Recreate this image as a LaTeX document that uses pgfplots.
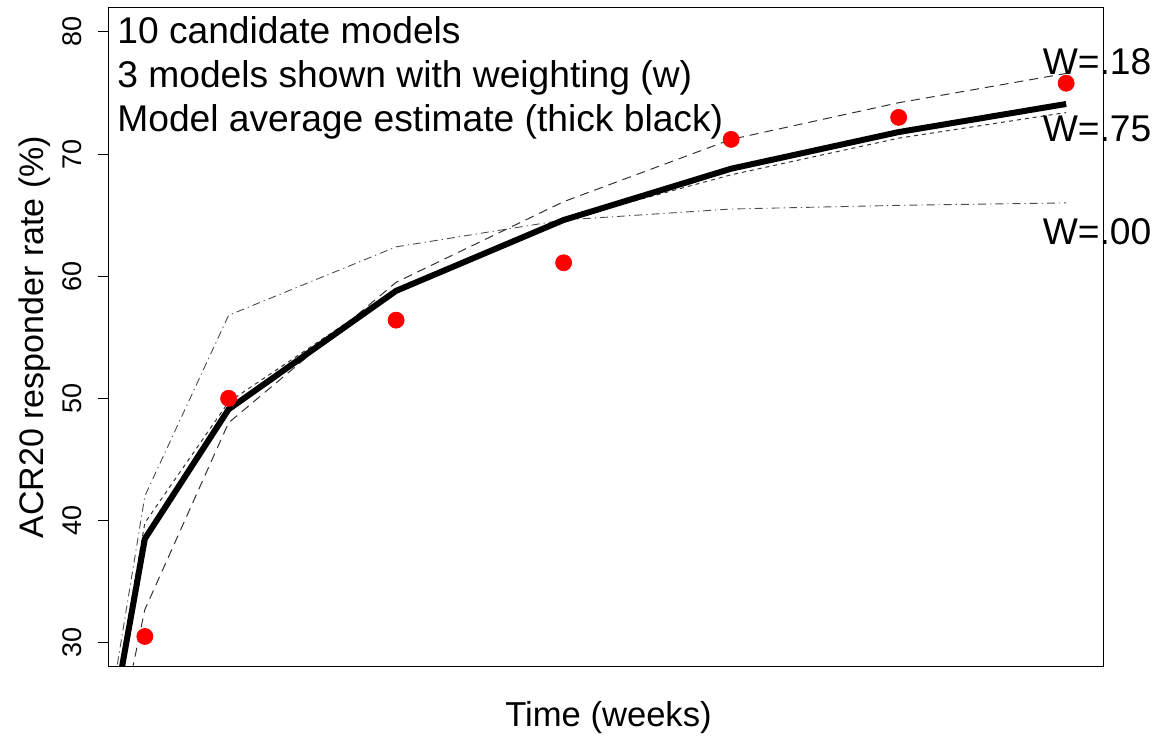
\documentclass[border=0pt]{standalone}
\usepackage{pgfplots}
\pgfplotsset{compat=1.18}
\usepackage{fontspec}
\setmainfont{Liberation Sans}
\usetikzlibrary{calc}
\begin{document}
\begin{tikzpicture}
\begin{axis}[
  scale only axis,
  width=497.5pt, height=329.75pt,
  xmin=0.56, xmax=12.44, ymin=28, ymax=82,
  xtick=\empty,
  ytick={30,40,50,60,70,80},
  ytick pos=left,
  tick align=outside,
  major tick length=5pt,
  every tick/.style={black, line width=0.5pt},
  axis line style={line width=0.5pt, black},
  /pgf/number format/assume math mode=true,
  yticklabel style={rotate=90, anchor=south, inner sep=0pt, font=\fontsize{13.5}{16}\selectfont},
  yticklabel shift=8.15pt,
  ylabel={ACR20 responder rate (\%)},
  ylabel style={at={(axis description cs:-0.0649,0.5)}, anchor=base, rotate=0, inner sep=0pt, font=\fontsize{17}{20}\selectfont},
  xlabel={Time (weeks)},
  xlabel style={at={(axis description cs:0.503,-0.0895)}, anchor=base, inner sep=0pt, font=\fontsize{17.3}{20}\selectfont},
  clip mode=individual,
]
% W=.00 model (dot-dash)
\addplot[black!70, line width=0.45pt, dash pattern=on 0.6pt off 2pt on 4pt off 2pt] coordinates {
 (0,0) (1,42.0) (2,56.8) (4,62.4) (6,64.6) (8,65.5) (10,65.8) (12,66.0)};
% W=.18 model (long dash)
\addplot[black!80, line width=0.5pt, dash pattern=on 4.5pt off 3pt] coordinates {
 (0,0) (1,32.7) (2,48.0) (4,59.5) (6,66.1) (8,71.2) (10,74.2) (12,76.6)};
% W=.75 model (short dash)
\addplot[black!80, line width=0.5pt, dash pattern=on 2pt off 2pt] coordinates {
 (0,0) (1,39.8) (2,49.7) (4,58.9) (6,64.6) (8,68.3) (10,71.3) (12,73.4)};
% Model average (thick black)
\addplot[black, line width=3pt] coordinates {
 (0,0) (1,38.5) (2,49.1) (4,58.8) (6,64.6) (8,68.8) (10,71.8) (12,74.1)};
% Observed
\addplot[only marks, mark=*, mark size=4pt, red, mark options={draw=red, fill=red}] coordinates {
 (1,30.5) (2,50.0) (4,56.4) (6,61.1) (8,71.2) (10,73.0) (12,75.8)};

\node[anchor=base west, inner sep=0pt, font=\fontsize{18.6}{22}\selectfont] at (axis description cs:0.009,0.9447) {10 candidate models};
\node[anchor=base west, inner sep=0pt, font=\fontsize{18.6}{22}\selectfont] at (axis description cs:0.009,0.878) {3 models shown with weighting (w)};
\node[anchor=base west, inner sep=0pt, font=\fontsize{18.6}{22}\selectfont] at (axis description cs:0.009,0.8117) {Model average estimate (thick black)};
\node[anchor=base, inner sep=0pt, font=\fontsize{18.6}{22}\selectfont] at (axis description cs:0.994,0.8977) {W=.18};
\node[anchor=base, inner sep=0pt, font=\fontsize{18.6}{22}\selectfont] at (axis description cs:0.994,0.7965) {W=.75};
\node[anchor=base, inner sep=0pt, font=\fontsize{18.6}{22}\selectfont] at (axis description cs:0.994,0.6399) {W=.00};
\end{axis}
\pgfresetboundingbox
\useasboundingbox ($(current axis.south west)+(-54pt,-43.5pt)$) rectangle ($(current axis.north east)+(28pt,3.75pt)$);
\end{tikzpicture}
\end{document}
